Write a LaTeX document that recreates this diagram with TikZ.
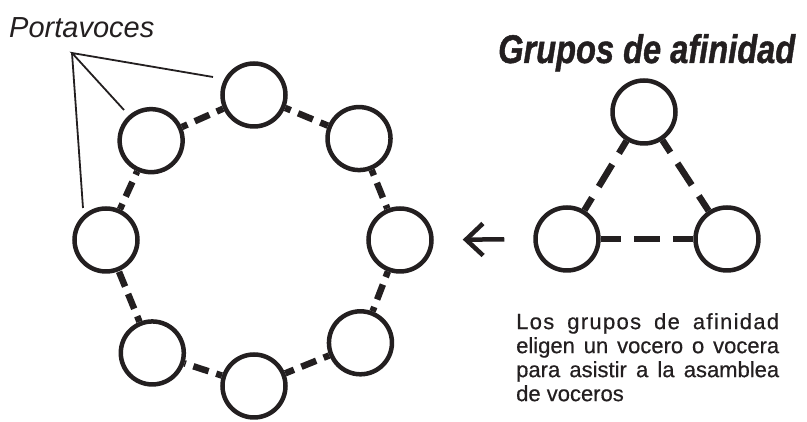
\documentclass[tikz,border=0pt]{standalone}
\usepackage{fontspec}
\setmainfont{Liberation Sans}
\newfontfamily\titlefont[FakeBold=1.2]{Liberation Sans}
\newfontfamily\notefont[FakeBold=0.5]{Liberation Sans}
\usetikzlibrary{arrows.meta}
\definecolor{ink}{RGB}{35,31,32}
\begin{document}
\begin{tikzpicture}[x=1pt,y=1pt,
    member/.style={circle,draw=ink,fill=white,line width=4.5pt,minimum size=63pt,inner sep=0pt},
    link/.style={draw=ink,line width=6.5pt,dash pattern=on 16pt off 8pt,dash phase=10pt},
    trilink/.style={draw=ink,line width=6.5pt,dash pattern=on 26pt off 13pt},
    pointer/.style={draw=ink,line width=1.8pt},
    back/.style={draw=ink,line width=4.5pt,-{Straight Barb[length=17pt,width=32pt]}}]
  \useasboundingbox (0,0) rectangle (807,422);
  \draw[shift={(254,182)}]
    (90:145) node[member] (v0){}
    (44:146) node[member] (v1){}
    (0:146) node[member] (v2){}
    (316:148) node[member] (v3){}
    (270:146) node[member] (v4){}
    (228:152) node[member] (v5){}
    (180:148) node[member] (v6){}
    (136:143) node[member] (v7){};
  \begin{scope}
    \draw[link] (v0) to (v1);
    \draw[link] (v1) to (v2);
    \draw[link] (v2) to (v3);
    \draw[link] (v3) to (v4);
    \draw[link] (v4) to (v5);
    \draw[link] (v5) to (v6);
    \draw[link] (v6) to (v7);
    \draw[link] (v7) to (v0);
  \end{scope}
  \draw
    (644,310) node[member] (t0){}
    (567,183) node[member] (t1){}
    (727,183) node[member] (t2){};
  \begin{scope}
    \draw[trilink,dash phase=11.5pt] (t0) to (t1);
    \draw[trilink,dash phase=11.5pt] (t0) to (t2);
    \draw[trilink,dash phase=5.75pt] (t1) to (t2);
  \end{scope}
  \draw[back,shorten <=29pt,shorten >=29pt] (t1) to (v2);
  \node[anchor=base west,inner sep=0pt,text=ink,font=\fontsize{29}{34}\selectfont\itshape] (spk) at (9,384) {Portavoces};
  \coordinate (apex) at (72,369);
  \coordinate (tip0) at (213,345);
  \coordinate (tip7) at (124,312);
  \coordinate (tip6) at (83,214);
  \draw[pointer] (tip0) -- (apex) -- (tip7);
  \draw[pointer] (apex) -- (tip6);
  \node[anchor=base west,inner sep=0pt,text=ink,font=\titlefont\fontsize{40}{44}\selectfont\bfseries\itshape] (grp) at (498,359) {\resizebox{297pt}{\height}{Grupos de afinidad}};
  \node[anchor=north west,inner sep=0pt,text=ink,text width=263pt,align=justify,font=\notefont\fontsize{22}{24}\selectfont] (note) at (516,109)
    {{\addfontfeature{LetterSpace=6}Los grupos de afinidad}\linebreak eligen un vocero o vocera\linebreak para asistir a la asamblea\linebreak de voceros};
\end{tikzpicture}
\end{document}
